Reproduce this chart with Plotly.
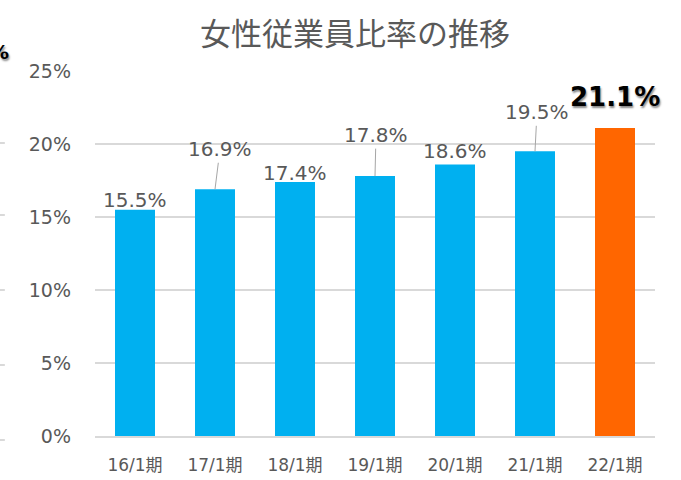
import plotly.graph_objects as go

categories = ["16/1期", "17/1期", "18/1期", "19/1期", "20/1期", "21/1期", "22/1期"]
values = [0.155, 0.169, 0.174, 0.178, 0.186, 0.195, 0.211]
labels = ["15.5%", "16.9%", "17.4%", "17.8%", "18.6%", "19.5%", "21.1%"]
bar_colors = ["#00B0F0"] * 6 + ["#FF6600"]
y_ticks = [0, 0.05, 0.10, 0.15, 0.20, 0.25]
y_tick_text = ["0%", "5%", "10%", "15%", "20%", "25%"]

FONT = "DejaVu Sans, Noto Sans CJK JP"
GRAY = "#595959"

fig = go.Figure()
fig.add_trace(go.Bar(x=categories, y=values, marker=dict(color=bar_colors, line=dict(width=0)),
                     width=0.5, hoverinfo="skip"))

# label placements: (ax, ay) pixel offsets; None -> no leader line
offsets = [None, (5, -40), None, (1, -41), None, (2, -39), None]
yshifts = [-4, 0, -5, 0, -1, 0, 14]
for i, (c, v, t) in enumerate(zip(categories, values, labels)):
    bold = i == len(categories) - 1
    font = dict(family=FONT, size=26 if bold else 20, color="#000000" if bold else GRAY,
                weight="bold" if bold else "normal")
    if bold:
        font["shadow"] = "1px 2px 2px #888888"
    if offsets[i] is None:
        fig.add_annotation(x=c, y=v, text=t, showarrow=False, yanchor="bottom",
                           yshift=yshifts[i], font=font)
    else:
        ax, ay = offsets[i]
        fig.add_annotation(x=c, y=v, text=t, showarrow=True, arrowhead=0, arrowwidth=1,
                           arrowcolor="#A6A6A6", ax=ax, ay=ay, standoff=0, font=font)

# title
fig.add_annotation(xref="paper", yref="paper", x=0.464, y=1, yshift=40, yanchor="middle",
                   text="女性従業員比率の推移", showarrow=False,
                   font=dict(family="Noto Sans CJK JP", size=31, color=GRAY))

# cropped neighbour-chart remnants at the left edge
fig.add_annotation(xref="paper", yref="paper", x=-0.171, y=1, yshift=19, yanchor="middle",
                   xanchor="center", text="%", showarrow=False,
                   font=dict(family=FONT, size=20, color="#000000", weight="bold",
                             shadow="1px 2px 2px #888888"))
for py in [143, 215, 290, 365, 440]:
    yp = (436 - py) / 365
    fig.add_shape(type="line", xref="paper", yref="paper", x0=-0.1696, x1=-0.161, y0=yp, y1=yp,
                  line=dict(color="#D9D9D9", width=2))

fig.update_layout(
    width=681, height=480,
    margin=dict(l=95, r=26, t=71, b=44, autoexpand=False),
    plot_bgcolor="white", paper_bgcolor="white",
    showlegend=False,
    bargap=0.5,
    font=dict(family=FONT, color=GRAY),
)
fig.update_yaxes(range=[0, 0.25], tickvals=y_ticks, ticktext=y_tick_text, showgrid=True,
                 gridcolor="#D9D9D9", gridwidth=2, zeroline=False, showline=False,
                 ticks="", ticklabelstandoff=23, automargin=False,
                 tickfont=dict(family=FONT, size=19, color=GRAY))
fig.update_xaxes(range=[-0.5, len(categories) - 0.5], autorange=False,
                 showline=True, linecolor="#D9D9D9", linewidth=2, ticks="",
                 ticklabelstandoff=13, automargin=False,
                 tickfont=dict(family=FONT, size=17, color=GRAY))

fig.write_html("out.html", config={"displayModeBar": False},
               post_script="document.body.style.margin='0';")
